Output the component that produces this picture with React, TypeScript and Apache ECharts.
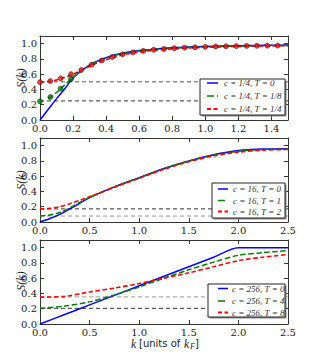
import React, { useEffect, useRef } from "react";
import * as echarts from "echarts";

// Panel 1: c = 1/4
const kA = [0, 0.05, 0.1, 0.15, 0.2, 0.25, 0.3, 0.35, 0.4, 0.45, 0.5, 0.6, 0.7, 0.8, 0.9, 1.0, 1.1, 1.2, 1.3, 1.4, 1.5];
const blueA = [0, 0.14, 0.28, 0.41, 0.55, 0.645, 0.72, 0.775, 0.815, 0.85, 0.875, 0.91, 0.93, 0.945, 0.955, 0.963, 0.968, 0.972, 0.976, 0.979, 0.982];
const greenA = [null, 0.28, 0.36, 0.46, 0.56, 0.645, 0.715, 0.77, 0.81, 0.845, 0.87, 0.905, 0.925, 0.94, 0.95, 0.958, 0.963, 0.967, 0.971, 0.974, 0.976];
const redA = [0.495, 0.505, 0.525, 0.56, 0.6, 0.65, 0.705, 0.75, 0.79, 0.823, 0.852, 0.89, 0.915, 0.932, 0.943, 0.952, 0.958, 0.963, 0.967, 0.971, 0.974];
const kDots = [0, 0.0625, 0.125, 0.1875, 0.25, 0.3125, 0.375, 0.4375, 0.5, 0.5625, 0.625, 0.6875, 0.75, 0.8125, 0.875, 0.9375, 1.0, 1.0625, 1.125, 1.1875, 1.25, 1.3125, 1.375, 1.4375];
const redDots = [0.495, 0.51, 0.545, 0.6, 0.655, 0.725, 0.78, 0.825, 0.86, 0.885, 0.905, 0.92, 0.93, 0.94, 0.947, 0.953, 0.958, 0.962, 0.965, 0.968, 0.97, 0.972, 0.974, 0.975];
const kGreenDots = [0, 0.0625, 0.125, 0.1875];
const greenDots = [0.245, 0.3, 0.41, 0.535];
const hLinesA = [0.5, 0.25];
const labelsA = ["c = 1/4, T = 0", "c = 1/4, T = 1/8", "c = 1/4, T = 1/4"];

// Panel 2: c = 16
const kB = [0, 0.1, 0.2, 0.3, 0.4, 0.5, 0.75, 1.0, 1.25, 1.5, 1.75, 2.0, 2.25, 2.5];
const blueB = [0, 0.045, 0.1, 0.17, 0.245, 0.32, 0.46, 0.58, 0.7, 0.8, 0.88, 0.935, 0.955, 0.96];
const greenB = [0.078, 0.092, 0.125, 0.185, 0.255, 0.322, 0.458, 0.578, 0.697, 0.797, 0.875, 0.928, 0.948, 0.955];
const redB = [0.172, 0.178, 0.2, 0.24, 0.285, 0.33, 0.455, 0.572, 0.69, 0.79, 0.865, 0.915, 0.94, 0.95];
const hLinesB = [0.172, 0.078];
const labelsB = ["c = 16, T = 0", "c = 16, T = 1", "c = 16, T = 2"];

// Panel 3: c = 256
const kC = [0, 0.25, 0.5, 0.75, 1.0, 1.25, 1.5, 1.75, 2.0, 2.25, 2.5];
const blueC = [0, 0.125, 0.25, 0.375, 0.5, 0.625, 0.75, 0.875, 1.0, 1.0, 1.0];
const greenC = [0.205, 0.235, 0.29, 0.38, 0.485, 0.6, 0.71, 0.81, 0.9, 0.935, 0.96];
const redC = [0.352, 0.362, 0.42, 0.47, 0.53, 0.6, 0.67, 0.75, 0.83, 0.875, 0.91];
const hLinesC = [0.355, 0.205];
const labelsC = ["c = 256, T = 0", "c = 256, T = 4", "c = 256, T = 8"];

const xMaxes = [1.5, 2.5, 2.5];
const xSteps = [0.2, 0.5, 0.5];

const SERIF = "'DejaVu Serif', serif";
const TSERIF = "'Liberation Serif', serif";
const AX = "#333";
const BLUE = "#0000ff";
const GREEN = "#007f00";
const RED = "#ff0000";

const tops = [36, 138, 240];
const GL = 40, GW = 248, GH = 84;

function fmt(step: number) {
  return (v: number) => {
    const r = v / step;
    return Math.abs(r - Math.round(r)) < 1e-6 ? v.toFixed(1) : "";
  };
}

function pairs(xs: number[], ys: (number | null)[]) {
  return xs.map((x, i) => [x, ys[i]]);
}

export default function App() {
  const ref = useRef<HTMLDivElement>(null);
  useEffect(() => {
    const chart = echarts.init(ref.current!, null, { renderer: "svg" });
    const grids: any[] = [];
    const xAxes: any[] = [];
    const yAxes: any[] = [];
    tops.forEach((t, p) => {
      grids.push({ left: GL, top: t, width: GW, height: GH });
      const base = {
        type: "value",
        gridIndex: p,
        min: 0,
        splitLine: { show: false },
        axisLine: { show: true, onZero: false, lineStyle: { color: AX, width: 1 } },
        axisTick: { show: true, inside: true, length: 4, lineStyle: { color: AX } },
      };
      xAxes.push({
        ...base,
        max: xMaxes[p],
        interval: xSteps[p],
        position: "bottom",
        axisLabel: { show: true, formatter: fmt(xSteps[p]), fontFamily: SERIF, fontSize: 10, lineHeight: 8, color: "#222", margin: 4 },
      });
      xAxes.push({ ...base, max: xMaxes[p], interval: xSteps[p], position: "top", axisLabel: { show: false } });
      yAxes.push({
        ...base,
        max: 1.1,
        interval: 0.2,
        position: "left",
        axisLabel: { show: true, formatter: fmt(0.2), fontFamily: SERIF, fontSize: 10, lineHeight: 8, color: "#222", margin: 3 },
      });
      yAxes.push({ ...base, max: 1.1, interval: 0.2, position: "right", axisLabel: { show: false } });
    });

    const series: any[] = [];
    const line = (p: number, xs: number[], ys: (number | null)[], color: string, dash: any, width: number, z: number) => {
      series.push({
        type: "line",
        xAxisIndex: 2 * p,
        yAxisIndex: 2 * p,
        data: pairs(xs, ys),
        showSymbol: false,
        symbol: "none",
        smooth: 0.3,
        connectNulls: false,
        lineStyle: { color, width, type: dash },
        z,
      });
    };
    const hline = (p: number, y: number, color: string) => {
      series.push({
        type: "line",
        xAxisIndex: 2 * p,
        yAxisIndex: 2 * p,
        data: [[0, y], [xMaxes[p], y]],
        showSymbol: false,
        symbol: "none",
        lineStyle: { color, width: 1, type: [4, 3] },
        z: 1,
      });
    };
    const dashG = [5.5, 2.5];
    const dashR = [4.5, 2.5];
    // Panel 1
    hline(0, hLinesA[0], "#555");
    hline(0, hLinesA[1], "#333");
    line(0, kA, blueA, BLUE, "solid", 1.5, 3);
    line(0, kA, greenA, GREEN, dashG, 1.5, 4);
    line(0, kA, redA, RED, dashR, 1.6, 5);
    series.push({
      type: "scatter",
      xAxisIndex: 0,
      yAxisIndex: 0,
      data: pairs(kDots, redDots),
      symbolSize: 5,
      itemStyle: { color: "#ee1111", borderColor: "#000", borderWidth: 0.6 },
      z: 6,
    });
    series.push({
      type: "scatter",
      xAxisIndex: 0,
      yAxisIndex: 0,
      data: pairs(kGreenDots, greenDots),
      symbolSize: 5,
      itemStyle: { color: "#007a00", borderColor: "#000", borderWidth: 0.6 },
      z: 6,
    });
    // Panel 2
    hline(1, hLinesB[0], "#333");
    hline(1, hLinesB[1], "#999");
    line(1, kB, blueB, BLUE, "solid", 1.5, 3);
    line(1, kB, greenB, GREEN, dashG, 1.5, 4);
    line(1, kB, redB, RED, dashR, 1.6, 5);
    // Panel 3
    hline(2, hLinesC[0], "#999");
    hline(2, hLinesC[1], "#333");
    line(2, kC, blueC, BLUE, "solid", 1.5, 3);
    line(2, kC, greenC, GREEN, dashG, 1.5, 4);
    line(2, kC, redC, RED, dashR, 1.6, 5);

    const graphics: any[] = [];
    const legend = (
      box: [number, number, number, number],
      rows: number[],
      lx: [number, number],
      tx: number,
      labels: string[]
    ) => {
      const [bx, by, bw, bh] = box;
      graphics.push({ type: "rect", shape: { x: bx + 1.5, y: by + 1.5, width: bw, height: bh }, style: { fill: "#8a8a8a" }, z: 100 });
      graphics.push({ type: "rect", shape: { x: bx, y: by, width: bw, height: bh }, style: { fill: "#fff", stroke: "#222", lineWidth: 1 }, z: 101 });
      const cols = [BLUE, GREEN, RED];
      const dashes: any[] = [null, [7, 3], [4, 2.5]];
      rows.forEach((ry, i) => {
        graphics.push({
          type: "line",
          shape: { x1: lx[0], y1: ry, x2: lx[1], y2: ry },
          style: { stroke: cols[i], lineWidth: i === 2 ? 1.8 : 1.5, lineDash: dashes[i] },
          z: 102,
        });
        graphics.push({
          type: "text",
          x: tx,
          y: ry,
          style: {
            text: labels[i],
            fontFamily: TSERIF,
            fontStyle: "italic",
            fontSize: 9,
            lineHeight: 10,
            fill: "#333",
            textVerticalAlign: "middle",
            textAlign: "left",
          },
          z: 102,
        });
      });
    };
    legend([200, 79, 85, 36], [83, 96, 109], [207, 218], 224, labelsA);
    legend([212, 183, 73, 35], [189, 200.5, 211.5], [218, 228], 233, labelsB);
    legend([208, 284, 77, 33], [288.5, 301, 312.5], [218, 228], 232, labelsC);

    const ylab = (cy: number) => ({
      type: "text",
      x: 21,
      y: cy,
      rotation: Math.PI / 2,
      style: {
        text: "S(k)",
        fontFamily: TSERIF,
        fontStyle: "italic",
        fontSize: 12,
        fill: "#222",
        textAlign: "center",
        textVerticalAlign: "middle",
      },
      z: 50,
    });
    graphics.push(ylab(78));
    graphics.push(ylab(180));
    graphics.push(ylab(281));

    const xl = (x: number, y: number, text: string, family: string, size: number, italic: boolean) => ({
      type: "text",
      x,
      y,
      style: {
        text,
        fontFamily: family,
        fontStyle: italic ? "italic" : "normal",
        fontSize: size,
        lineHeight: size,
        fill: "#222",
        textAlign: "left",
        textVerticalAlign: "middle",
      },
      z: 50,
    });
    graphics.push(xl(131, 343.5, "k", TSERIF, 11.5, true));
    graphics.push(xl(139, 343, "[units of", "'DejaVu Sans', sans-serif", 10, false));
    graphics.push(xl(184, 343.5, "k", TSERIF, 11.5, true));
    graphics.push(xl(190, 346, "F", TSERIF, 8, true));
    graphics.push(xl(195, 343, "]", "'DejaVu Sans', sans-serif", 10, false));

    chart.setOption({
      animation: false,
      backgroundColor: "#fff",
      grid: grids,
      xAxis: xAxes,
      yAxis: yAxes,
      series,
      graphic: graphics,
    });
    return () => chart.dispose();
  }, []);
  return <div ref={ref} style={{ position: "fixed", left: 0, top: 0, width: 320, height: 360 }} />;
}
